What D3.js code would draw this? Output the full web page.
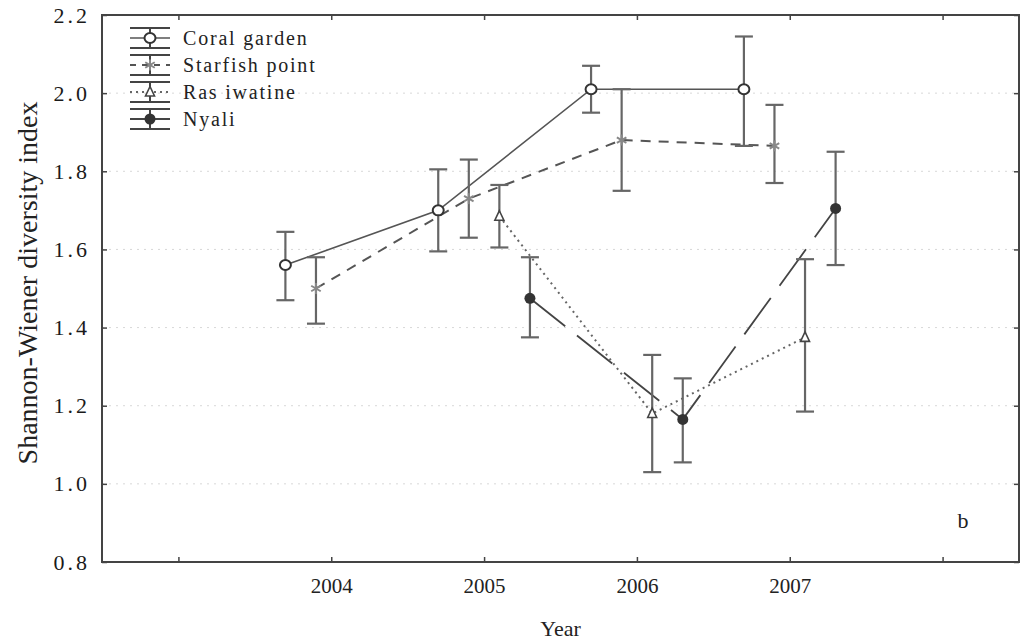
<!DOCTYPE html>
<html><head><meta charset="utf-8">
<script src="https://cdn.jsdelivr.net/npm/d3@7"></script>
<style>body{margin:0;background:#fff}svg{display:block}</style>
</head><body>
<svg id="c" width="1025" height="641"></svg>
<script>
// ---- data ----
const years = [2004, 2005, 2006, 2007];
const xTickValues = [2003, 2004, 2005, 2006, 2007, 2008];
const xTickLabels = ["", "2004", "2005", "2006", "2007", ""];
const yTickValues = [0.8, 1.0, 1.2, 1.4, 1.6, 1.8, 2.0, 2.2];
const seriesNames = ["Coral garden", "Starfish point", "Ras iwatine", "Nyali"];
const coralYears = [2004, 2005, 2006, 2007];
const coralMean = [1.56, 1.70, 2.01, 2.01];
const coralLow  = [1.47, 1.595, 1.95, 1.865];
const coralHigh = [1.645, 1.805, 2.07, 2.145];
const starYears = [2004, 2005, 2006, 2007];
const starMean = [1.50, 1.73, 1.88, 1.865];
const starLow  = [1.41, 1.63, 1.75, 1.77];
const starHigh = [1.58, 1.83, 2.01, 1.97];
const rasYears = [2005, 2006, 2007];
const rasMean = [1.685, 1.18, 1.375];
const rasLow  = [1.605, 1.03, 1.185];
const rasHigh = [1.765, 1.33, 1.575];
const nyaYears = [2005, 2006, 2007];
const nyaMean = [1.475, 1.165, 1.705];
const nyaLow  = [1.375, 1.055, 1.56];
const nyaHigh = [1.58, 1.27, 1.85];
const offsets = [-0.3, -0.1, 0.1, 0.3];

// ---- layout ----
const L = 102, R = 1019, T = 15, B = 562;
const svg = d3.select("#c");
const x = d3.scaleLinear().domain([2002.5, 2008.5]).range([L, R]);
const y = d3.scaleLinear().domain([0.8, 2.2]).range([B, T]);

const serif = "'Liberation Serif','Times New Roman',serif";

// faint gridlines
svg.append("g").selectAll("line").data(yTickValues.slice(1, -1)).join("line")
  .attr("x1", L).attr("x2", R).attr("y1", d => y(d)).attr("y2", d => y(d))
  .attr("stroke", "#d8d8d8").attr("stroke-width", 1).attr("stroke-dasharray", "2,5");

// frame
svg.append("rect").attr("x", L).attr("y", T).attr("width", R - L).attr("height", B - T)
  .attr("fill", "none").attr("stroke", "#444").attr("stroke-width", 2);

// axes (ticks inward)
const xAxisB = d3.axisBottom(x).tickValues(xTickValues).tickSize(-5).tickFormat((d, i) => xTickLabels[i]).tickPadding(16);
const gxb = svg.append("g").attr("transform", `translate(0,${B})`).call(xAxisB);
const xAxisT = d3.axisTop(x).tickValues(xTickValues).tickSize(-5).tickFormat("");
const gxt = svg.append("g").attr("transform", `translate(0,${T})`).call(xAxisT);
const yAxisL = d3.axisLeft(y).tickValues(yTickValues).tickSize(-5).tickFormat(d3.format(".1f")).tickPadding(12);
const gyl = svg.append("g").attr("transform", `translate(${L},0)`).call(yAxisL);
const yAxisR = d3.axisRight(y).tickValues(yTickValues).tickSize(-5).tickFormat("");
const gyr = svg.append("g").attr("transform", `translate(${R},0)`).call(yAxisR);
[gxb, gxt, gyl, gyr].forEach(g => {
  g.select(".domain").remove();
  g.selectAll(".tick line").attr("stroke", "#444").attr("stroke-width", 1.5);
});
gxb.selectAll("text").attr("font-family", serif).attr("font-size", 21).attr("fill", "#222");
gyl.selectAll("text").attr("font-family", serif).attr("font-size", 22).attr("fill", "#1a1a1a")
  .attr("letter-spacing", "3px");

// titles
svg.append("text").attr("x", x(2005.5)).attr("y", 636).attr("text-anchor", "middle")
  .attr("font-family", serif).attr("font-size", 22).attr("fill", "#222").text("Year");
svg.append("text").attr("transform", `translate(37,283) rotate(-90)`)
  .attr("text-anchor", "middle").attr("font-family", serif).attr("font-size", 28).attr("fill", "#222")
  .text("Shannon-Wiener diversity index");
svg.append("text").attr("x", 963).attr("y", 528).attr("text-anchor", "middle")
  .attr("font-family", serif).attr("font-size", 22).attr("fill", "#222").text("b");

// series
const series = [
  {name: seriesNames[0], yrs: coralYears, m: coralMean, lo: coralLow, hi: coralHigh, dash: null, lw: 1.6, lc: "#555", marker: "circle", legDash: null},
  {name: seriesNames[1], yrs: starYears, m: starMean, lo: starLow, hi: starHigh, dash: "10,8", lw: 2, lc: "#555", marker: "star", legDash: "6,6"},
  {name: seriesNames[2], yrs: rasYears, m: rasMean, lo: rasLow, hi: rasHigh, dash: "2,4", lw: 2, lc: "#666", marker: "tri", legDash: "2,4"},
  {name: seriesNames[3], yrs: nyaYears, m: nyaMean, lo: nyaLow, hi: nyaHigh, dash: "45,15", lw: 1.8, lc: "#444", marker: "dot", legDash: null}
];
series.forEach((s, k) => {
  s.pts = s.yrs.map((yr, i) => ({x: x(yr + offsets[k]), y: y(s.m[i]), lo: y(s.lo[i]), hi: y(s.hi[i])}));
});

function drawMarker(g, type, cx, cy) {
  if (type === "circle") {
    g.append("ellipse").attr("cx", cx).attr("cy", cy).attr("rx", 5.5).attr("ry", 5)
      .attr("fill", "#fff").attr("stroke", "#333").attr("stroke-width", 2);
  } else if (type === "dot") {
    g.append("circle").attr("cx", cx).attr("cy", cy).attr("r", 5.5).attr("fill", "#333");
  } else if (type === "tri") {
    const p = d3.path();
    p.moveTo(cx, cy - 5.5); p.lineTo(cx + 4.5, cy + 4); p.lineTo(cx - 4.5, cy + 4); p.closePath();
    g.append("path").attr("d", p.toString()).attr("fill", "#fff").attr("stroke", "#444").attr("stroke-width", 1.6);
  } else if (type === "star") {
    const r = 5.5;
    [0, 60, 120].forEach(a => {
      const rad = a * Math.PI / 180;
      g.append("line").attr("x1", cx - r * Math.sin(rad)).attr("y1", cy - r * Math.cos(rad))
        .attr("x2", cx + r * Math.sin(rad)).attr("y2", cy + r * Math.cos(rad))
        .attr("stroke", "#888").attr("stroke-width", 2);
    });
  }
}

const lineGen = d3.line().x(d => d.x).y(d => d.y);
const gLines = svg.append("g");
series.forEach(s => {
  gLines.append("path").attr("d", lineGen(s.pts)).attr("fill", "none")
    .attr("stroke", s.lc).attr("stroke-width", s.lw).attr("stroke-dasharray", s.dash);
});
const gErr = svg.append("g").attr("stroke", "#666").attr("stroke-width", 2.2);
series.forEach(s => {
  s.pts.forEach(p => {
    gErr.append("line").attr("x1", p.x).attr("x2", p.x).attr("y1", p.lo).attr("y2", p.hi);
    gErr.append("line").attr("x1", p.x - 9).attr("x2", p.x + 9).attr("y1", p.lo).attr("y2", p.lo);
    gErr.append("line").attr("x1", p.x - 9).attr("x2", p.x + 9).attr("y1", p.hi).attr("y2", p.hi);
  });
});
const gMk = svg.append("g");
series.forEach(s => s.pts.forEach(p => drawMarker(gMk, s.marker, p.x, p.y)));

// legend
const gLeg = svg.append("g");
series.forEach((s, i) => {
  const cy = 38 + i * 27, cx = 150;
  const g = gLeg.append("g");
  g.append("line").attr("x1", cx - 20).attr("x2", cx + 20).attr("y1", cy - 10).attr("y2", cy - 10).attr("stroke", "#444").attr("stroke-width", 2);
  g.append("line").attr("x1", cx - 20).attr("x2", cx + 20).attr("y1", cy + 10).attr("y2", cy + 10).attr("stroke", "#444").attr("stroke-width", 2);
  g.append("line").attr("x1", cx).attr("x2", cx).attr("y1", cy - 10).attr("y2", cy + 10).attr("stroke", "#444").attr("stroke-width", 2);
  g.append("line").attr("x1", cx - 20).attr("x2", cx + 20).attr("y1", cy).attr("y2", cy)
    .attr("stroke", s.lc).attr("stroke-width", s.lw).attr("stroke-dasharray", s.legDash);
  drawMarker(g, s.marker, cx, cy);
  g.append("text").attr("x", 183).attr("y", cy + 7).attr("font-family", serif).attr("font-size", 20)
    .attr("letter-spacing", "1.8px").attr("fill", "#222").text(s.name);
});
</script>
</body></html>
